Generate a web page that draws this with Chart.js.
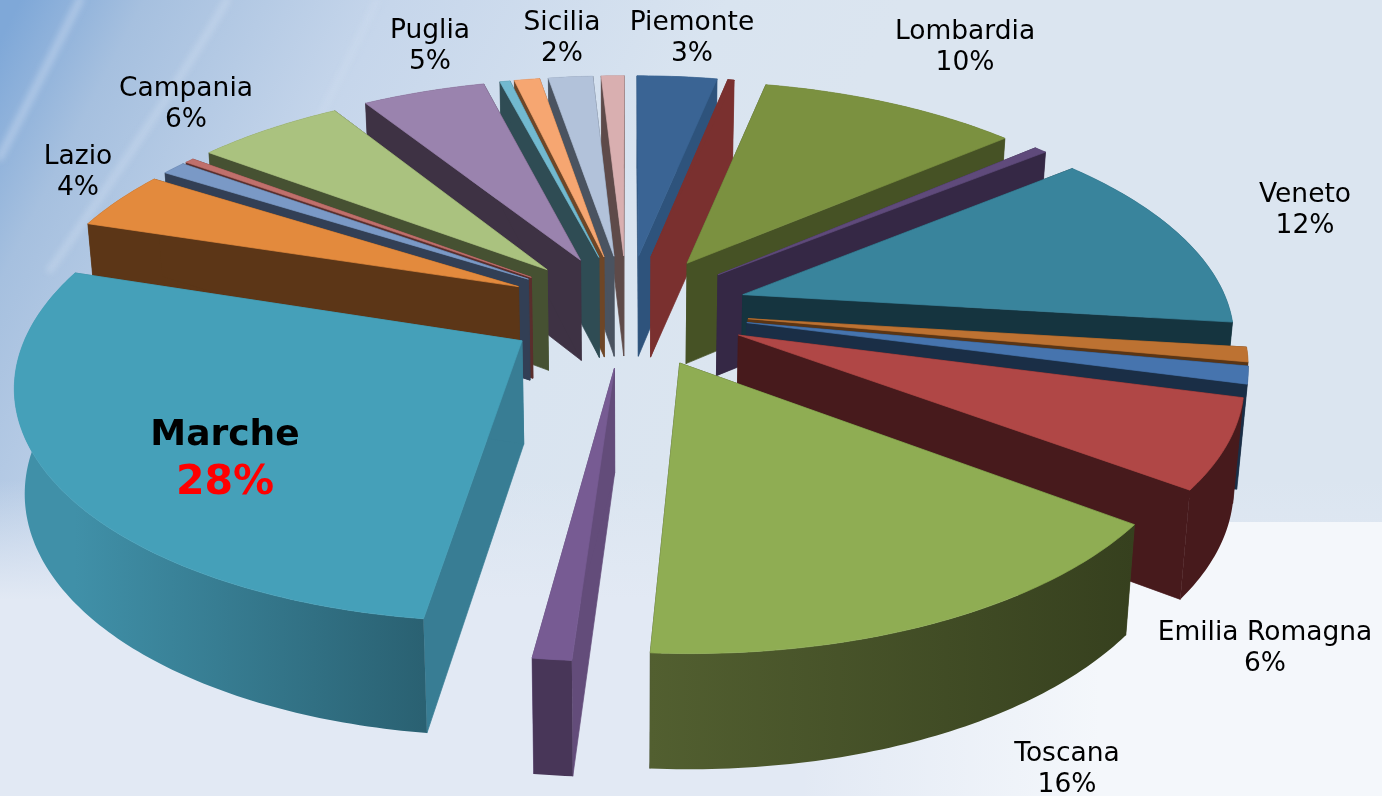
<!DOCTYPE html>
<html><head><meta charset="utf-8">
<style>html,body{margin:0;padding:0;background:#e4ebf5;overflow:hidden}#w{width:1382px;height:796px}</style>
<script src="https://cdn.jsdelivr.net/npm/chart.js@4"></script>
</head><body><div id="w"><canvas id="c" width="1382" height="796"></canvas></div>
<script>
const regions=["Piemonte","Valle d'Aosta","Lombardia","Trentino","Veneto","Friuli","Liguria","Emilia Romagna","Toscana","Umbria","Marche","Lazio","Abruzzo","Molise","Campania","Puglia","Basilicata","Calabria","Sicilia","Sardegna"];
const shares=[3.15,0.25,10.25,0.5,12.8,1,1.2,6.1,15.8,1.05,27.8,4.1,0.95,0.35,5.8,4.85,0.4,1,1.75,0.9];
const topColors=["#3a6494","#7a302f","#7b9140","#5f4a7b","#39849c","#bd7232","#4674ae","#b04746","#8fad53","#775b93","#45a0b9","#e38a3d","#7a99c6","#c0706c","#aac27f","#9a83ae","#72b9cf","#f6a671","#b2c2da","#d9afb0"];
const wallColors=["#2e537c","#7a302f","#465225","#352845","#15343f","#5a3515","#1a2e46","#471a1c","#3b4420","#634c7a","#387d94","#5c3617","#323f55","#5a2e2c","#465132","#3e3244","#2f4c54","#6e4627","#4a5360","#5e4a49"];
const outerStart=["#2e537c","#7a302f","#465225","#352845","#15343f","#5a3515","#1a2e46","#471a1c","#36401e","#483658","#2a6172","#5c3617","#323f55","#5a2e2c","#465132","#3e3244","#2f4c54","#6e4627","#4a5360","#5e4a49"];
const outerEnd=["#2e537c","#7a302f","#465225","#352845","#15343f","#5a3515","#1a2e46","#471a1c","#525f30","#483658","#4090a8","#5c3617","#323f55","#5a2e2c","#465132","#3e3244","#2f4c54","#6e4627","#4a5360","#5e4a49"];
const labelNames=["Piemonte","Lombardia","Veneto","Emilia Romagna","Toscana","Lazio","Campania","Puglia","Sicilia"];
const labelPcts=["3%","10%","12%","6%","16%","4%","6%","5%","2%"];
const labelX=[692,965,1305,1265,1067,78,186,430,562];
const labelY=[21,30,193,631,752,155,87,29,21];
const mainName="Marche", mainPct="28%";

const view={cx:627,cy:310,A:487,B:225,k:0.16,explode:0.25,bottomShrink:0.983};
function proj(X,Y,low){
  const s=1/(1-view.k*Y);
  let x=view.cx+view.A*X*s, y=view.cy+view.B*Y*s;
  if(low){ x=view.cx+(x-view.cx)*view.bottomShrink; y+=100+55*(s-0.96); }
  return [x,y];
}
function poly(ctx,pts,fill){
  ctx.beginPath();pts.forEach((p,i)=>i?ctx.lineTo(p[0],p[1]):ctx.moveTo(p[0],p[1]));ctx.closePath();
  ctx.fillStyle=fill;ctx.strokeStyle=fill;ctx.lineWidth=0.7;ctx.fill();ctx.stroke();
}
function drawSlice(ctx,arc,i){
  const a0=arc.startAngle,a1=arc.endAngle,m=(a0+a1)/2;
  const ox=view.explode*Math.cos(m),oy=view.explode*Math.sin(m);
  const n=Math.max(2,Math.ceil((a1-a0)/0.015));
  const rim=[];
  for(let j=0;j<=n;j++){const a=a0+(a1-a0)*j/n;rim.push([ox+Math.cos(a),oy+Math.sin(a)]);}
  const apexTop=proj(ox,oy,false),apexLow=proj(ox,oy,true);
  const first=rim[0],last=rim[n];
  poly(ctx,[apexTop,proj(first[0],first[1],false),proj(first[0],first[1],true),apexLow],wallColors[i]);
  poly(ctx,[apexTop,proj(last[0],last[1],false),proj(last[0],last[1],true),apexLow],wallColors[i]);
  const upper=rim.map(p=>proj(p[0],p[1],false)),lower=rim.map(p=>proj(p[0],p[1],true)).reverse();
  const g=ctx.createLinearGradient(upper[0][0],0,upper[n][0]+0.01,0);
  g.addColorStop(0,outerStart[i]);g.addColorStop(1,outerEnd[i]);
  ctx.beginPath();upper.concat(lower).forEach((p,j)=>j?ctx.lineTo(p[0],p[1]):ctx.moveTo(p[0],p[1]));ctx.closePath();
  ctx.fillStyle=g;ctx.fill();
  poly(ctx,[apexTop].concat(upper),topColors[i]);
}
const perspectivePie={
  id:'perspectivePie',
  beforeDraw(chart){
    const ctx=chart.ctx,W=chart.width,H=chart.height;
    ctx.save();
    let g=ctx.createLinearGradient(0,40,700,400);
    g.addColorStop(0,'#7fa8d8');g.addColorStop(0.14,'#a6c0df');g.addColorStop(0.42,'#c6d6eb');g.addColorStop(0.8,'#d9e4f0');g.addColorStop(1,'#dbe5f0');
    ctx.fillStyle=g;ctx.fillRect(0,0,W,H);
    g=ctx.createLinearGradient(0,480,0,600);g.addColorStop(0,'rgba(226,233,244,0)');g.addColorStop(1,'rgba(226,233,244,1)');
    ctx.fillStyle=g;ctx.fillRect(0,480,W,120);ctx.fillStyle='#e2e9f4';ctx.fillRect(0,600,W,H-600);
    g=ctx.createLinearGradient(800,0,1100,0);g.addColorStop(0,'rgba(244,247,251,0)');g.addColorStop(1,'rgba(244,247,251,1)');
    ctx.fillStyle=g;ctx.fillRect(800,522,W-800,H-522);
    ctx.filter='blur(3px)';ctx.lineCap='round';
    [[80,0,45,70,0,157,8,0.35],[227,0,180,83,50,270,7,0.3],[377,0,333,93,310,135,6,0.2]].forEach(s=>{
      ctx.beginPath();ctx.moveTo(s[0],s[1]);ctx.quadraticCurveTo(s[2],s[3],s[4],s[5]);
      ctx.lineWidth=s[6];ctx.strokeStyle=`rgba(226,236,248,${s[7]})`;ctx.stroke();
    });
    ctx.filter='none';
    ctx.restore();
  },
  beforeDatasetsDraw(chart){
    const ctx=chart.ctx,arcs=chart.getDatasetMeta(0).data;
    const order=arcs.map((a,i)=>i).sort((p,q)=>Math.sin((arcs[p].startAngle+arcs[p].endAngle)/2)-Math.sin((arcs[q].startAngle+arcs[q].endAngle)/2));
    ctx.save();
    order.forEach(i=>drawSlice(ctx,arcs[i],i));
    ctx.restore();
    return false;
  },
  afterDraw(chart){
    const ctx=chart.ctx;
    ctx.save();ctx.textAlign='center';ctx.textBaseline='middle';
    ctx.font='26.5px "DejaVu Sans"';ctx.fillStyle='#000';
    labelNames.forEach((t,i)=>{ctx.fillText(t,labelX[i],labelY[i]+2);ctx.fillText(labelPcts[i],labelX[i],labelY[i]+33);});
    ctx.font='bold 36px "DejaVu Sans"';
    ctx.fillStyle='#000';ctx.fillText(mainName,225,436);
    ctx.font='bold 41px "DejaVu Sans"';
    ctx.fillStyle='#ff0000';ctx.fillText(mainPct,225,483);
    ctx.restore();
  }
};
new Chart(document.getElementById('c'),{
  type:'pie',
  data:{labels:regions,datasets:[{data:shares,backgroundColor:topColors,borderWidth:0}]},
  options:{responsive:false,animation:false,layout:{padding:0},plugins:{legend:{display:false},tooltip:{enabled:false},title:{display:false}}},
  plugins:[perspectivePie]
});
</script></body></html>
